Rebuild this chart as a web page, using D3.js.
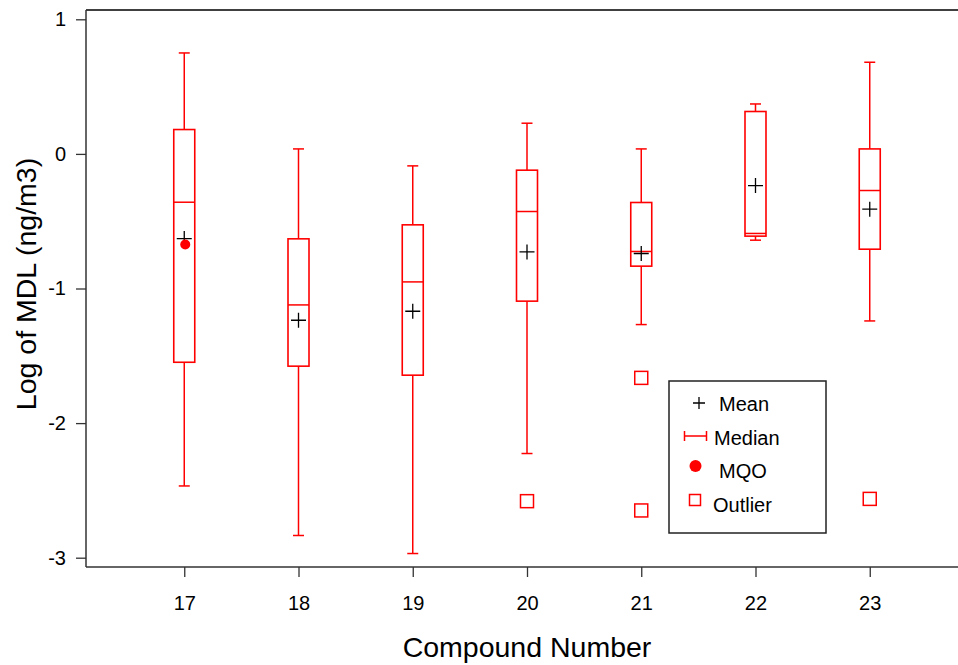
<!DOCTYPE html>
<html>
<head>
<meta charset="utf-8">
<script src="https://cdn.jsdelivr.net/npm/d3@7"></script>
<style>
  html, body { margin: 0; padding: 0; background: #fff; }
  svg { display: block; font-family: "Liberation Sans", Arial, sans-serif; }
</style>
</head>
<body>
<svg id="chart" width="958" height="665"></svg>
<script>
// ---- data ----
const compounds   = [17, 18, 19, 20, 21, 22, 23];
const whiskerHigh = [0.750, 0.037, -0.089, 0.228, 0.037, 0.371, 0.681];
const q3          = [0.181, -0.631, -0.527, -0.121, -0.361, 0.315, 0.037];
const medians     = [-0.359, -1.122, -0.951, -0.428, -0.725, -0.591, -0.272];
const q1          = [-1.548, -1.577, -1.644, -1.094, -0.834, -0.611, -0.708];
const whiskerLow  = [-2.467, -2.835, -2.969, -2.226, -1.268, -0.641, -1.241];
const means       = [-0.629, -1.236, -1.169, -0.728, -0.740, -0.235, -0.411];
const mqoCompound = [17];
const mqoValue    = [-0.673];
const outlierCompound = [20, 21, 21, 23];
const outlierValue    = [-2.580, -1.664, -2.649, -2.563];
const yTicks = [-3, -2, -1, 0, 1];
const legendLabels = ["Mean", "Median", "MQO", "Outlier"];

// ---- layout ----
const svg = d3.select("#chart");
const mLeft = 86, mTop = 10, mBottom = 567, mRight = 968;
const x = d3.scaleLinear().domain([16.14, 23.86]).range([mLeft, mRight]);
const y = d3.scaleLinear().domain([-3, 1]).range([557.7, 19.3]);
const red = "#ff0000";
const fam = "'Liberation Sans', Arial, sans-serif";

// frame: top line
svg.append("line").attr("x1", mLeft).attr("x2", 958).attr("y1", mTop).attr("y2", mTop)
  .attr("stroke", "#000").attr("stroke-width", 1.3);

// y axis
const yAxis = d3.axisLeft(y).tickValues(yTicks).tickSize(10).tickPadding(8).tickFormat(d => String(d));
const gy = svg.append("g").attr("transform", `translate(${mLeft},0)`).call(yAxis);
gy.select(".domain").remove();
gy.append("line").attr("x1", 0).attr("x2", 0).attr("y1", mTop).attr("y2", mBottom).attr("stroke", "#333").attr("stroke-width", 1.5);
gy.selectAll(".tick line").attr("stroke", "#333").attr("stroke-width", 1.3);
gy.selectAll(".tick text").style("font-size", "20px").style("font-family", fam).attr("fill", "#000").attr("dx", -2);

// x axis
const xAxis = d3.axisBottom(x).tickValues(compounds).tickSize(10).tickPadding(19).tickFormat(d => String(d));
const gx = svg.append("g").attr("transform", `translate(0,${mBottom})`).call(xAxis);
gx.select(".domain").remove();
gx.append("line").attr("x1", mLeft).attr("x2", 958).attr("y1", 0).attr("y2", 0).attr("stroke", "#333").attr("stroke-width", 1.5);
gx.selectAll(".tick line").attr("stroke", "#333").attr("stroke-width", 1.3);
gx.selectAll(".tick text").style("font-size", "20px").style("font-family", fam).attr("fill", "#000");

// axis titles
svg.append("text").attr("x", 527).attr("y", 657).attr("text-anchor", "middle")
  .style("font-size", "28.5px").text("Compound Number");
svg.append("text").attr("transform", "translate(36,284) rotate(-90)").attr("text-anchor", "middle")
  .style("font-size", "28.5px").text("Log of MDL (ng/m3)");

// ---- boxes ----
const boxW = 21, capW = 11;
const data = compounds.map((c, i) => ({c, hi: whiskerHigh[i], q3: q3[i], med: medians[i], q1: q1[i], lo: whiskerLow[i], mean: means[i]}));
const g = svg.append("g");
const bg = g.selectAll("g.box").data(data).join("g").attr("class", "box");
// whiskers
bg.append("line").attr("x1", d => x(d.c)).attr("x2", d => x(d.c))
  .attr("y1", d => y(d.hi)).attr("y2", d => y(d.q3)).attr("stroke", red).attr("stroke-width", 1.5);
bg.append("line").attr("x1", d => x(d.c)).attr("x2", d => x(d.c))
  .attr("y1", d => y(d.q1)).attr("y2", d => y(d.lo)).attr("stroke", red).attr("stroke-width", 1.5);
// caps
bg.append("line").attr("x1", d => x(d.c) - capW / 2).attr("x2", d => x(d.c) + capW / 2)
  .attr("y1", d => y(d.hi)).attr("y2", d => y(d.hi)).attr("stroke", red).attr("stroke-width", 1.5);
bg.append("line").attr("x1", d => x(d.c) - capW / 2).attr("x2", d => x(d.c) + capW / 2)
  .attr("y1", d => y(d.lo)).attr("y2", d => y(d.lo)).attr("stroke", red).attr("stroke-width", 1.5);
// box
bg.append("rect").attr("x", d => x(d.c) - boxW / 2).attr("width", boxW)
  .attr("y", d => y(d.q3)).attr("height", d => y(d.q1) - y(d.q3))
  .attr("fill", "none").attr("stroke", red).attr("stroke-width", 1.6);
// median
bg.append("line").attr("x1", d => x(d.c) - boxW / 2).attr("x2", d => x(d.c) + boxW / 2)
  .attr("y1", d => y(d.med)).attr("y2", d => y(d.med)).attr("stroke", red).attr("stroke-width", 1.5);

// MQO
g.selectAll("circle.mqo").data(mqoCompound.map((c, i) => ({c, v: mqoValue[i]}))).join("circle")
  .attr("class", "mqo").attr("cx", d => x(d.c) + 1).attr("cy", d => y(d.v)).attr("r", 5).attr("fill", red);

// mean crosses
const cross = 7.5;
bg.append("path").attr("d", d => `M${x(d.c) - cross},${y(d.mean)}H${x(d.c) + cross}M${x(d.c)},${y(d.mean) - cross}V${y(d.mean) + cross}`)
  .attr("stroke", "#000").attr("stroke-width", 1.3).attr("fill", "none");

// outliers
const os = 13;
g.selectAll("rect.out").data(outlierCompound.map((c, i) => ({c, v: outlierValue[i]}))).join("rect")
  .attr("class", "out").attr("x", d => x(d.c) - os / 2).attr("y", d => y(d.v) - os / 2)
  .attr("width", os).attr("height", os).attr("fill", "none").attr("stroke", red).attr("stroke-width", 1.5);

// ---- legend ----
const lg = svg.append("g");
lg.append("rect").attr("x", 669).attr("y", 381).attr("width", 157).attr("height", 152)
  .attr("fill", "#fff").attr("stroke", "#222").attr("stroke-width", 1.5);
const lx = [719, 714, 719, 713];
const ly = [411, 445, 478, 512];
lg.selectAll("text").data(legendLabels).join("text")
  .attr("x", (d, i) => lx[i]).attr("y", (d, i) => ly[i]).style("font-size", "20px").text(d => d);
// mean symbol
lg.append("path").attr("d", "M693,403H705M699,397V409").attr("stroke", "#000").attr("stroke-width", 1.3);
// median symbol
lg.append("path").attr("d", "M684.5,436H706.5M684.5,431V441M706.5,431V441").attr("stroke", red).attr("stroke-width", 1.5).attr("fill", "none");
// MQO symbol
lg.append("circle").attr("cx", 695.5).attr("cy", 466).attr("r", 6).attr("fill", red);
// outlier symbol
lg.append("rect").attr("x", 689.5).attr("y", 494.5).attr("width", 11).attr("height", 11)
  .attr("fill", "none").attr("stroke", red).attr("stroke-width", 1.5);
</script>
</body>
</html>
